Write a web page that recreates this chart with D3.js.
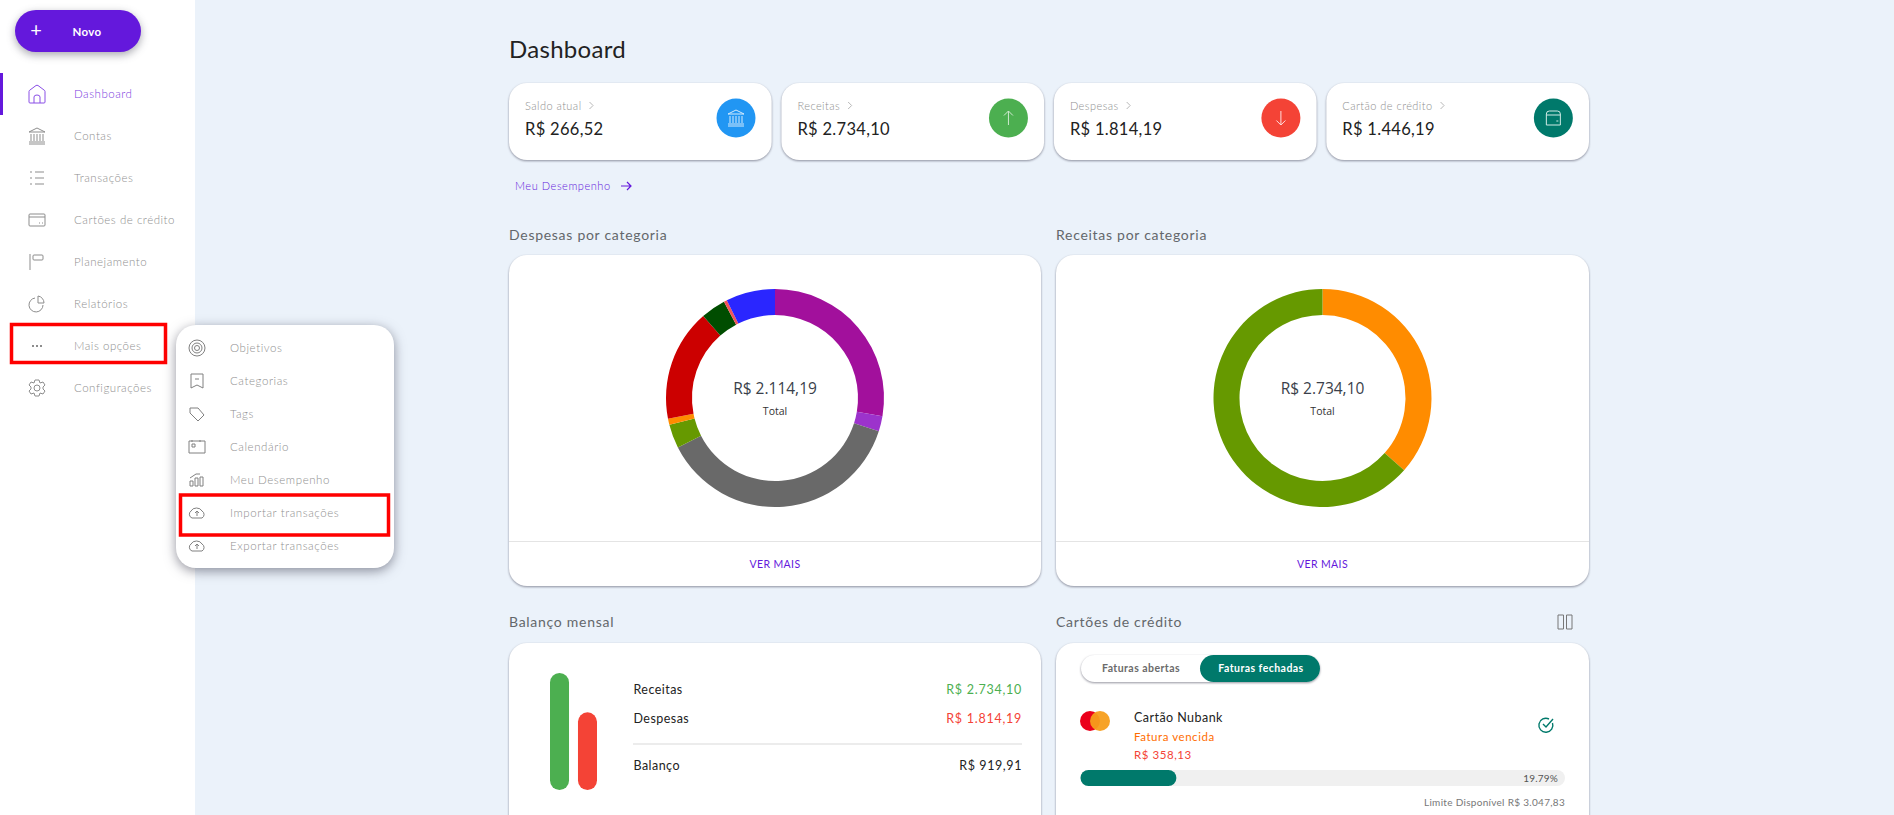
<!DOCTYPE html>
<html>
<head>
<meta charset="utf-8">
<title>Dashboard</title>
<script src="https://cdn.jsdelivr.net/npm/d3@7/dist/d3.min.js"></script>
<style>
  html, body { margin: 0; padding: 0; background: #ebf2fa; overflow: hidden; }
  svg { display: block; font-family: Lato, sans-serif; }
  .card { filter: drop-shadow(0 1px 1px rgba(60,60,80,.55)); }
  .pop { filter: drop-shadow(0 3px 6px rgba(40,40,60,.5)); }
  .btn { filter: drop-shadow(0 3px 4px rgba(40,40,60,.4)); }
</style>
</head>
<body>
<div id="chart"></div>
<script>
// menu
var menuLabels = ['Dashboard', 'Contas', 'Transações', 'Cartões de crédito', 'Planejamento', 'Relatórios', 'Mais opções', 'Configurações'];
var popupLabels = ['Objetivos', 'Categorias', 'Tags', 'Calendário', 'Meu Desempenho', 'Importar transações', 'Exportar transações'];

// cards do topo
var cardLabels = ['Saldo atual', 'Receitas', 'Despesas', 'Cartão de crédito'];
var cardValues = ['R$ 266,52', 'R$ 2.734,10', 'R$ 1.814,19', 'R$ 1.446,19'];
var cardColors = ['#2196f3', '#4caf50', '#f44336', '#00796b'];

// donuts
var despesasValues = [585, 48, 794, 75, 19, 351, 78, 10, 154];
var despesasColors = ['#a2109c', '#9c33cc', '#696969', '#669900', '#ff8c00', '#cc0000', '#004d00', '#f2545b', '#2a26ff'];
var receitasValues = [999, 1735];
var receitasColors = ['#ff8c00', '#669900'];

// balanco mensal
var balancoLabels = ['Receitas', 'Despesas'];
var balancoValues = [2734.10, 1814.19];
var balancoColors = ['#4caf50', '#f44336'];
var balancoTexts = ['R$ 2.734,10', 'R$ 1.814,19'];

// fatura do cartao
var faturaPercent = 19.79;

var w = 1894, h = 815;
var grayText = '#909090', titleText = '#63676b', purple = '#6418dc', teal = '#00796b';

var svg = d3.select('#chart').append('svg').attr('width', w).attr('height', h);
svg.append('rect').attr('width', w).attr('height', h).attr('fill', '#ebf2fa');

function label(g, x, y, str, size, color, anchor, spacing, weight) {
  return g.append('text')
    .attr('x', x).attr('y', y)
    .attr('dy', '0.35em')
    .attr('font-size', size)
    .attr('fill', color)
    .attr('text-anchor', anchor || 'start')
    .attr('letter-spacing', spacing || 0)
    .attr('font-weight', weight || 400)
    .text(str);
}

function box(g, x, y, bw, bh, r, cls) {
  return g.append('rect')
    .attr('class', cls || 'card')
    .attr('x', x).attr('y', y)
    .attr('width', bw).attr('height', bh)
    .attr('rx', r).attr('fill', '#fff');
}

// icones desenhados como path simples, centrados em 0,0
var icons = {
  home: 'M-8 8V-2.5Q-8 -3.5 -7 -4L-1 -8.5Q0 -9 1 -8.5L7 -4Q8 -3.5 8 -2.5V8Q8 9 7 9H-7Q-8 9 -8 8Z M-3 9V3Q-3 1 0 1Q3 1 3 3V9',
  bank: 'M-8 -4L0 -8L8 -4Z M-6 -2V5 M-3 -2V5 M0 -2V5 M3 -2V5 M6 -2V5 M-8 6H8 M-8 8H8',
  list: 'M-7 -6H-5 M-7 0H-5 M-7 6H-5 M-2 -6H7 M-2 0H7 M-2 6H7',
  card: 'M-8 -5Q-8 -6 -7 -6H7Q8 -6 8 -5V5Q8 6 7 6H-7Q-8 6 -8 5Z M-8 -3H8 M2 3H3 M5 3H6',
  flag: 'M-7 -8V8 M-3 -7H5Q6 -7 6 -6V-3Q6 -2 5 -2H-3Q-4 -2 -4 -3V-6Q-4 -7 -3 -7Z',
  pie: 'M-2 -6A7 7 0 1 0 6 1 M1 -8A7 7 0 0 1 7 -1H1Z',
  dots: 'M-5 0H-3 M-1 0H1 M3 0H5',
  gear: 'M-2 -8H2L3 -5L6 -6L8 -3L6 -1V1L8 3L6 6L3 5L2 8H-2L-3 5L-6 6L-8 3L-6 1V-1L-8 -3L-6 -6L-3 -5Z M3 0A3 3 0 1 1 -3 0A3 3 0 1 1 3 0',
  target: 'M8 0A8 8 0 1 1 -8 0A8 8 0 1 1 8 0 M5 0A5 5 0 1 1 -5 0A5 5 0 1 1 5 0 M2.5 0A2.5 2.5 0 1 1 -2.5 0A2.5 2.5 0 1 1 2.5 0',
  tagmark: 'M-6 -7H6V7L0 4L-6 7Z M-2 -2H2',
  tag: 'M-7 -6H1L7 1L1 7L-7 -1Z',
  cal: 'M-8 -6H8V6H-8Z M-5 -7V-5 M3 -7V-5 M-5 -3H-2V0H-5Z',
  bars: 'M-7 1H-4V6H-7Z M-2 -2H1V6H-2Z M3 -3H6V6H3Z M-7 -2L-1 -6L3 -6',
  cloud: 'M-5 5A4 4 0 0 1 -6 -2A6 5 0 0 1 5 -2A4 4 0 0 1 5 5Z M0 3V-2 M-2 0L0 -2L2 0'
};
var menuIcons = ['home', 'bank', 'list', 'card', 'flag', 'pie', 'dots', 'gear'];
var popupIcons = ['target', 'tagmark', 'tag', 'cal', 'bars', 'cloud', 'cloud'];

function icon(g, x, y, name, color, sw) {
  return g.append('path')
    .attr('transform', 'translate(' + x + ',' + y + ')')
    .attr('d', icons[name])
    .attr('fill', 'none')
    .attr('stroke', color)
    .attr('stroke-width', sw || 1);
}

// ---- lateral
var side = svg.append('g');
side.append('rect').attr('width', 195).attr('height', h).attr('fill', '#fff');
side.append('rect').attr('class', 'btn').attr('x', 15).attr('y', 10).attr('width', 126).attr('height', 42).attr('rx', 21).attr('fill', purple);
label(side, 36, 30, '+', 20, '#fff', 'middle', 0, 400);
label(side, 87, 31.5, 'Novo', 11.5, '#fff', 'middle', 0.4, 700);
side.append('rect').attr('y', 73).attr('width', 3).attr('height', 42).attr('fill', purple);

var menuY = d3.scalePoint().domain(menuLabels).range([94, 388]);
menuLabels.forEach(function(d, i) {
  var active = i === 0;
  icon(side, 37, menuY(d), menuIcons[i], active ? '#8a4fe6' : '#8d8d8d', i === 6 ? 2 : 1);
  label(side, 74, menuY(d), d, 11.5, active ? '#7a3de0' : grayText, 'start', 0.52, 300);
});
side.append('rect').attr('x', 11.5).attr('y', 324.5).attr('width', 154).attr('height', 38)
  .attr('fill', 'none').attr('stroke', '#f00').attr('stroke-width', 3.5);

// ---- popup
var pop = svg.append('g');
box(pop, 176, 325, 218, 243, 20, 'pop');
var popY = d3.scalePoint().domain(popupLabels).range([348, 546]);
popupLabels.forEach(function(d, i) {
  icon(pop, 197, popY(d), popupIcons[i], '#808080');
  label(pop, 230, popY(d), d, 11.5, grayText, 'start', 0.58, 300);
});
pop.append('rect').attr('x', 180.5).attr('y', 495).attr('width', 208).attr('height', 40)
  .attr('fill', 'none').attr('stroke', '#f00').attr('stroke-width', 3.5);

// ---- topo
var main = svg.append('g');
label(main, 509, 50, 'Dashboard', 24, '#222', 'start', 0.3);

var cardX = d3.scaleBand().domain(cardLabels).range([509, 1589]).paddingInner(0.036);
cardLabels.forEach(function(d, i) {
  var x = cardX(d), bw = cardX.bandwidth();
  box(main, x, 83, bw, 77, 18);
  var t = label(main, x + 16, 106, d, 11, grayText, 'start', 0.45, 300);
  var tx = x + 16 + t.node().getComputedTextLength() + 8;
  main.append('path').attr('d', 'M' + tx + ' 102L' + (tx + 3.5) + ' 105.5L' + tx + ' 109').attr('fill', 'none').attr('stroke', '#b8b8b8');
  label(main, x + 16, 129, cardValues[i], 16.5, '#222', 'start', 0.3);
  main.append('circle').attr('cx', x + 227).attr('cy', 118).attr('r', 19.5).attr('fill', cardColors[i]);
});
// icones dentro dos circulos
var cx0 = cardX(cardLabels[0]) + 227, cx1 = cardX(cardLabels[1]) + 227, cx2 = cardX(cardLabels[2]) + 227, cx3 = cardX(cardLabels[3]) + 227;
icon(main, cx0, 118, 'bank', '#d5ebfd');
main.append('path').attr('transform', 'translate(' + cx1 + ',118)').attr('d', 'M0 7V-7 M-4.5 -2.5L0 -7L4.5 -2.5').attr('fill', 'none').attr('stroke', '#cfeacf');
main.append('path').attr('transform', 'translate(' + cx2 + ',118)').attr('d', 'M0 -7V7 M-4.5 2.5L0 7L4.5 2.5').attr('fill', 'none').attr('stroke', '#fdd');
main.append('path').attr('transform', 'translate(' + cx3 + ',118)').attr('d', 'M-7 -4Q-7 -7 -4 -7H4Q7 -7 7 -4V7H-7Z M-7 -3H7 M3 3H5').attr('fill', 'none').attr('stroke', '#d0ebe6');

label(main, 515, 186, 'Meu Desempenho', 11, purple, 'start', 0.55, 300);
main.append('path').attr('transform', 'translate(626,186)').attr('d', 'M-5 0H5 M1 -4L5 0L1 4').attr('fill', 'none').attr('stroke', purple).attr('stroke-width', 1.2);

// ---- paineis dos donuts
var panelX = [509, 1056], panelW = [532, 533];
var donutTitles = ['Despesas por categoria', 'Receitas por categoria'];
var donutTotals = ['R$ 2.114,19', 'R$ 2.734,10'];
var donutData = [despesasValues, receitasValues];
var donutColors = [despesasColors, receitasColors];

var pie = d3.pie().sort(null);
var arc = d3.arc().innerRadius(83).outerRadius(109);

donutTitles.forEach(function(d, i) {
  var px = panelX[i], pw = panelW[i], cx = px + pw / 2;
  label(main, px, 235, d, 14, titleText, 'start', 0.72);
  box(main, px, 255, pw, 331, 18);
  main.append('line').attr('x1', px).attr('x2', px + pw).attr('y1', 541.5).attr('y2', 541.5).attr('stroke', '#e4e4e4');
  label(main, cx, 564, 'VER MAIS', 10.5, purple, 'middle', 0.4);

  var g = main.append('g').attr('transform', 'translate(' + cx + ',398)');
  g.selectAll('path')
    .data(pie(donutData[i]))
    .enter().append('path')
    .attr('d', arc)
    .attr('fill', function(s, j) { return donutColors[i][j]; });
  g.append('text').attr('y', -9).attr('dy', '0.35em').attr('text-anchor', 'middle')
    .attr('font-family', '"Open Sans", sans-serif').attr('font-size', 15.5).attr('fill', '#3a3f4a').text(donutTotals[i]);
  g.append('text').attr('y', 13).attr('dy', '0.35em').attr('text-anchor', 'middle')
    .attr('font-family', '"Open Sans", sans-serif').attr('font-size', 10.5).attr('fill', '#333').text('Total');
});

// ---- balanco mensal
label(main, 509, 622, 'Balanço mensal', 14, titleText, 'start', 0.72);
box(main, 509, 643, 532, 200, 18);

var barY = d3.scaleLinear().domain([0, 2734.10]).range([790, 673]);
var barX = d3.scaleBand().domain(balancoLabels).range([550, 597]).paddingInner(0.32);
main.selectAll('.bar')
  .data(balancoValues)
  .enter().append('rect')
  .attr('class', 'bar')
  .attr('x', function(d, i) { return barX(balancoLabels[i]); })
  .attr('y', function(d) { return barY(d); })
  .attr('width', barX.bandwidth())
  .attr('height', function(d) { return barY(0) - barY(d); })
  .attr('rx', 9.5)
  .attr('fill', function(d, i) { return balancoColors[i]; });

var rowY = [690, 719];
balancoLabels.forEach(function(d, i) {
  label(main, 633.5, rowY[i], d, 12.5, '#222', 'start', 0.45);
  label(main, 1022, rowY[i], balancoTexts[i], 12.5, balancoColors[i], 'end', 0.75);
});
main.append('line').attr('x1', 633).attr('x2', 1022).attr('y1', 744).attr('y2', 744).attr('stroke', '#d9d9d9');
label(main, 633.5, 766, 'Balanço', 12.5, '#222', 'start', 0.45);
label(main, 1022, 766, 'R$ 919,91', 12.5, '#222', 'end', 0.6);

// ---- cartoes de credito
label(main, 1056, 622, 'Cartões de crédito', 14, titleText, 'start', 0.72);
box(main, 1056, 643, 533, 200, 18);
main.append('path').attr('d', 'M1558 615h5.5v14h-5.5z M1566.5 615h5.5v14h-5.5z').attr('fill', 'none').attr('stroke', '#777');

box(main, 1081, 655, 239, 27, 13.5);
main.append('rect').attr('x', 1200).attr('y', 655).attr('width', 120).attr('height', 27).attr('rx', 13.5).attr('fill', teal);
label(main, 1141, 668, 'Faturas abertas', 10.5, '#6b6b6b', 'middle', 0.45, 700);
label(main, 1261, 668, 'Faturas fechadas', 10.5, '#fff', 'middle', 0.45, 700);

main.append('circle').attr('cx', 1090).attr('cy', 721).attr('r', 10).attr('fill', '#eb001b');
main.append('circle').attr('cx', 1100).attr('cy', 721).attr('r', 10).attr('fill', '#f79e1b').attr('fill-opacity', 0.95);

label(main, 1134, 718, 'Cartão Nubank', 12.5, '#222', 'start', 0.45);
label(main, 1134, 737, 'Fatura vencida', 11.5, '#ff6d00', 'start', 0.55);
label(main, 1134, 755, 'R$ 358,13', 11.5, '#f44336', 'start', 0.55);
main.append('path').attr('transform', 'translate(1546,725)')
  .attr('d', 'M6.5 -2A7 7 0 1 1 3 -6 M-3 -1L0 2L7 -6').attr('fill', 'none').attr('stroke', teal).attr('stroke-width', 1.4);

var progX = d3.scaleLinear().domain([0, 100]).range([1080.5, 1565]);
main.append('rect').attr('x', progX(0)).attr('y', 770).attr('width', progX(100) - progX(0)).attr('height', 16).attr('rx', 8).attr('fill', '#f0f0f0');
main.append('rect').attr('x', progX(0)).attr('y', 770).attr('width', progX(faturaPercent) - progX(0)).attr('height', 16).attr('rx', 8).attr('fill', teal);
label(main, 1558, 778, '19.79%', 10, '#555', 'end', 0.2);
label(main, 1565, 802, 'Limite Disponível R$ 3.047,83', 10, '#777', 'end', 0.3);
</script>
</body>
</html>
